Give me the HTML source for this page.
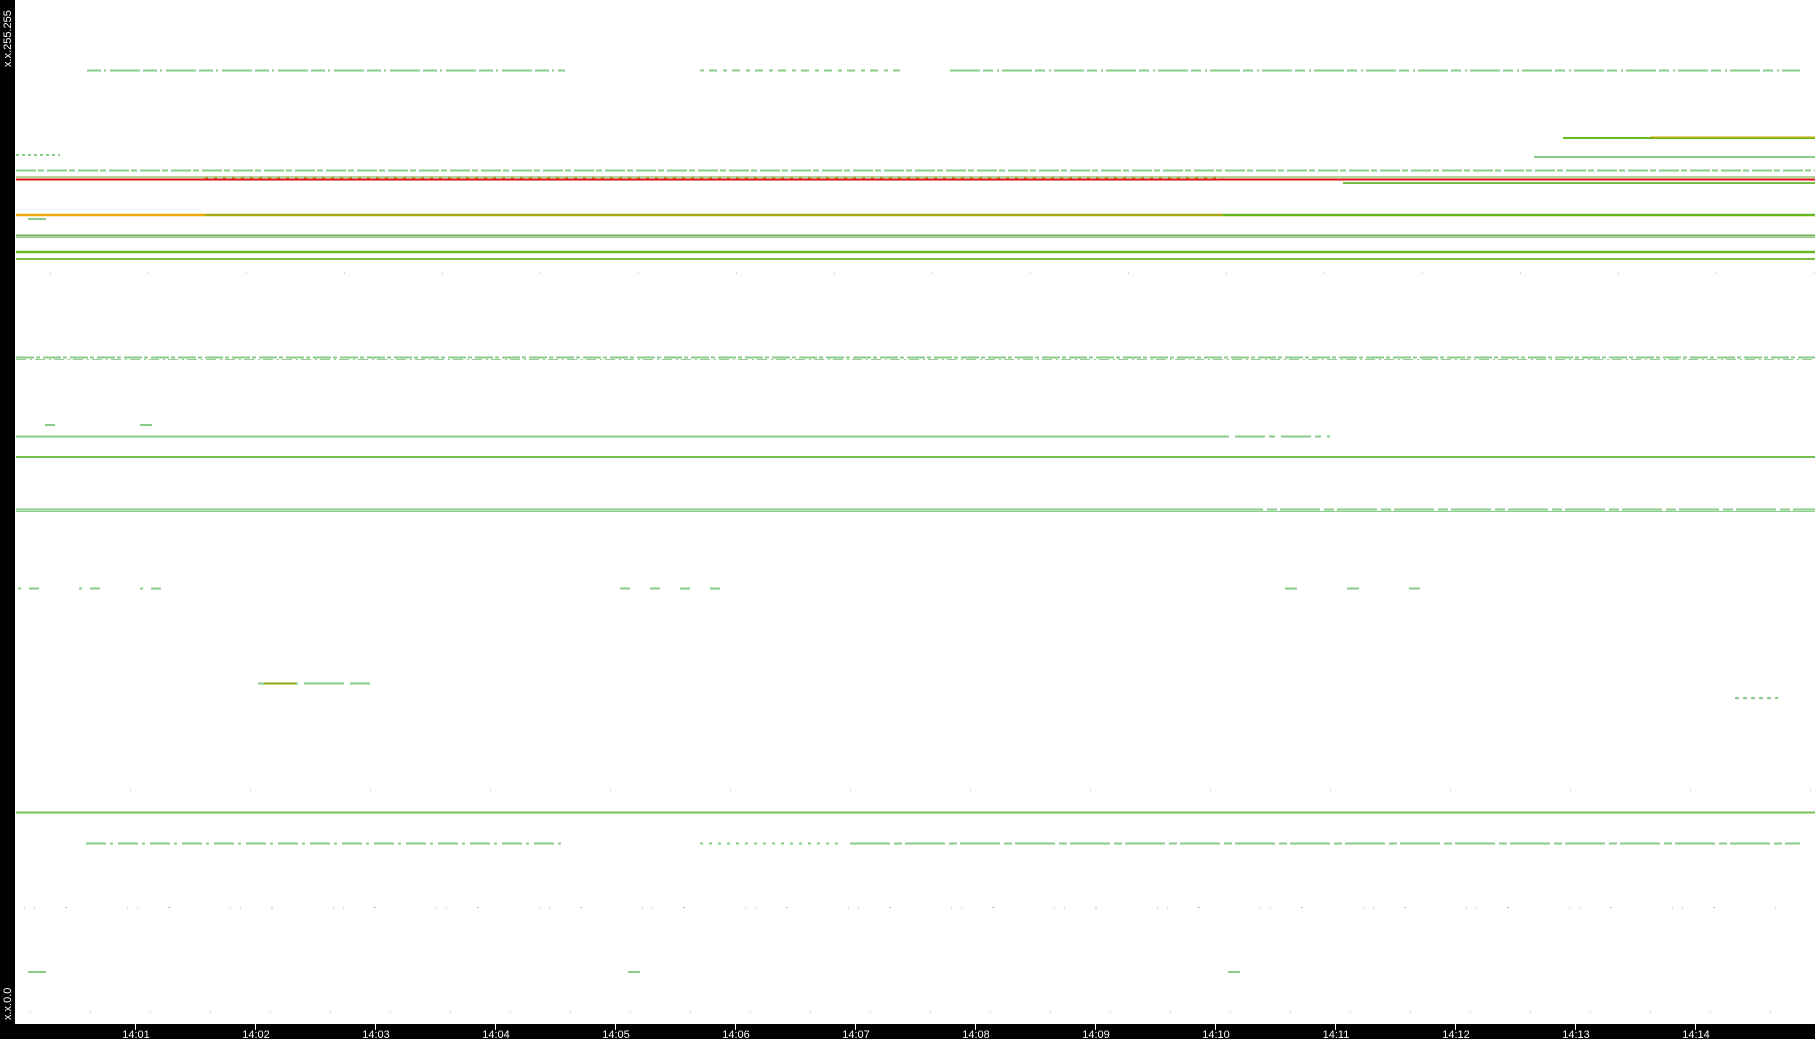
<!DOCTYPE html>
<html><head><style>
html,body{margin:0;padding:0;background:#fff;}
svg{display:block;}
</style></head><body>
<svg width="1815" height="1039" xmlns="http://www.w3.org/2000/svg">
<rect width="1815" height="1039" fill="#fff"/>
<g stroke-width="2" fill="none">
<line x1="87" y1="70.5" x2="565" y2="70.5" stroke="#88cc88" stroke-dasharray="14 3 2 4 30 3"/>
<line x1="700" y1="70.5" x2="900" y2="70.5" stroke="#88cc88" stroke-dasharray="4 5 8 6"/>
<line x1="950" y1="70.5" x2="1800" y2="70.5" stroke="#88cc88" stroke-dasharray="30 3 10 4 2 3"/>
<line x1="1563" y1="138" x2="1815" y2="138" stroke="#66bb22"/>
<line x1="1650" y1="137" x2="1815" y2="137" stroke="#ddaa00" stroke-width="1"/>
<line x1="1534" y1="157" x2="1815" y2="157" stroke="#88cc88"/>
<line x1="1343" y1="183" x2="1815" y2="183" stroke="#77bb44"/>
<line x1="16" y1="155" x2="60" y2="155" stroke="#88cc88" stroke-dasharray="3 3"/>
<line x1="16" y1="170.5" x2="1815" y2="170.5" stroke="#88cc88" stroke-dasharray="20 2 6 3"/>
<line x1="16" y1="177" x2="1815" y2="177" stroke="#66aa33" stroke-width="1"/>
<line x1="16" y1="179.5" x2="1815" y2="179.5" stroke="#dd1111"/>
<line x1="205" y1="178" x2="1223" y2="178" stroke="#dd9933" stroke-width="1" stroke-dasharray="3 6"/>
<line x1="16" y1="215" x2="205" y2="215" stroke="#eeaa00" stroke-width="2.5"/>
<line x1="205" y1="215" x2="1223" y2="215" stroke="#aaaa11" stroke-width="2.5"/>
<line x1="1223" y1="215" x2="1815" y2="215" stroke="#66b822" stroke-width="2.5"/>
<line x1="28" y1="219" x2="46" y2="219" stroke="#88cc88"/>
<line x1="16" y1="235.5" x2="1815" y2="235.5" stroke="#77aa55"/>
<line x1="16" y1="237.5" x2="1815" y2="237.5" stroke="#88c888" stroke-width="1"/>
<line x1="16" y1="252" x2="1815" y2="252" stroke="#66b822" stroke-width="2.5"/>
<line x1="16" y1="259" x2="1815" y2="259" stroke="#77bb44"/>
<line x1="16" y1="357.5" x2="1815" y2="357.5" stroke="#88cc88" stroke-dasharray="18 2 4 3"/>
<line x1="16" y1="359.5" x2="1815" y2="359.5" stroke="#99cc99" stroke-width="1" stroke-dasharray="10 4 2 3"/>
<line x1="45" y1="425" x2="55" y2="425" stroke="#88cc88"/>
<line x1="140" y1="425" x2="152" y2="425" stroke="#88cc88"/>
<line x1="16" y1="436.5" x2="1223" y2="436.5" stroke="#88cc88"/>
<line x1="1223" y1="436.5" x2="1330" y2="436.5" stroke="#88cc88" stroke-dasharray="6 6 30 4"/>
<line x1="16" y1="457" x2="1815" y2="457" stroke="#77c055" stroke-width="2"/>
<line x1="16" y1="509.5" x2="1223" y2="509.5" stroke="#88cc88"/>
<line x1="1223" y1="509.5" x2="1815" y2="509.5" stroke="#88cc88" stroke-dasharray="40 4 10 3"/>
<line x1="16" y1="511.5" x2="1815" y2="511.5" stroke="#88cc88" stroke-width="1"/>
<line x1="18" y1="588.5" x2="170" y2="588.5" stroke="#88cc88" stroke-dasharray="3 8 10 40"/>
<line x1="620" y1="588.5" x2="720" y2="588.5" stroke="#88cc88" stroke-dasharray="10 20"/>
<line x1="1285" y1="588.5" x2="1420" y2="588.5" stroke="#88cc88" stroke-dasharray="12 50"/>
<line x1="258" y1="683.5" x2="370" y2="683.5" stroke="#88cc88" stroke-dasharray="40 6"/>
<line x1="264" y1="683.5" x2="296" y2="683.5" stroke="#88aa11"/>
<line x1="1735" y1="698" x2="1778" y2="698" stroke="#88cc88" stroke-dasharray="4 4"/>
<line x1="16" y1="812.5" x2="1815" y2="812.5" stroke="#77c055"/>
<line x1="86" y1="843.5" x2="565" y2="843.5" stroke="#88cc88" stroke-dasharray="20 4 3 5"/>
<line x1="700" y1="843.5" x2="840" y2="843.5" stroke="#88cc88" stroke-dasharray="3 6"/>
<line x1="850" y1="843.5" x2="1800" y2="843.5" stroke="#88cc88" stroke-dasharray="40 4 8 3"/>
<line x1="24" y1="907.5" x2="1780" y2="907.5" stroke="#99cc99" stroke-width="1" stroke-dasharray="1 9 1 30 2 60"/>
<line x1="28" y1="972" x2="46" y2="972" stroke="#88cc88"/>
<line x1="628" y1="972" x2="640" y2="972" stroke="#88cc88"/>
<line x1="1228" y1="972" x2="1240" y2="972" stroke="#88cc88"/>
<line x1="30" y1="1012" x2="1815" y2="1012" stroke="#99cc99" stroke-width="1" stroke-dasharray="1 59"/>
<line x1="130" y1="790" x2="1815" y2="790" stroke="#99cc99" stroke-width="1" stroke-dasharray="1 119"/>
<line x1="50" y1="273" x2="1815" y2="273" stroke="#99cc99" stroke-width="1" stroke-dasharray="1 97"/>
</g>
<rect x="0" y="0" width="15" height="1039" fill="#000"/>
<rect x="0" y="1024" width="1815" height="15" fill="#000"/>
<g stroke="#fff" stroke-width="1">
<line x1="135.5" y1="1024" x2="135.5" y2="1030"/><line x1="255.5" y1="1024" x2="255.5" y2="1030"/>
<line x1="375.5" y1="1024" x2="375.5" y2="1030"/><line x1="495.5" y1="1024" x2="495.5" y2="1030"/>
<line x1="615.5" y1="1024" x2="615.5" y2="1030"/><line x1="735.5" y1="1024" x2="735.5" y2="1030"/>
<line x1="855.5" y1="1024" x2="855.5" y2="1030"/><line x1="975.5" y1="1024" x2="975.5" y2="1030"/>
<line x1="1095.5" y1="1024" x2="1095.5" y2="1030"/><line x1="1215.5" y1="1024" x2="1215.5" y2="1030"/>
<line x1="1335.5" y1="1024" x2="1335.5" y2="1030"/><line x1="1455.5" y1="1024" x2="1455.5" y2="1030"/>
<line x1="1575.5" y1="1024" x2="1575.5" y2="1030"/><line x1="1695.5" y1="1024" x2="1695.5" y2="1030"/>
</g>
<g fill="#fff" font-family="Liberation Sans, sans-serif" font-size="11" text-anchor="middle">
<text x="136" y="1038">14:01</text><text x="256" y="1038">14:02</text><text x="376" y="1038">14:03</text>
<text x="496" y="1038">14:04</text><text x="616" y="1038">14:05</text><text x="736" y="1038">14:06</text>
<text x="856" y="1038">14:07</text><text x="976" y="1038">14:08</text><text x="1096" y="1038">14:09</text>
<text x="1216" y="1038">14:10</text><text x="1336" y="1038">14:11</text><text x="1456" y="1038">14:12</text>
<text x="1576" y="1038">14:13</text><text x="1696" y="1038">14:14</text>
</g>
<g fill="#fff" font-family="Liberation Sans, sans-serif" font-size="11">
<text transform="translate(11,67) rotate(-90)">x.x.255.255</text>
<text transform="translate(11,1020) rotate(-90)">x.x.0.0</text>
</g>
</svg>
</body></html>
